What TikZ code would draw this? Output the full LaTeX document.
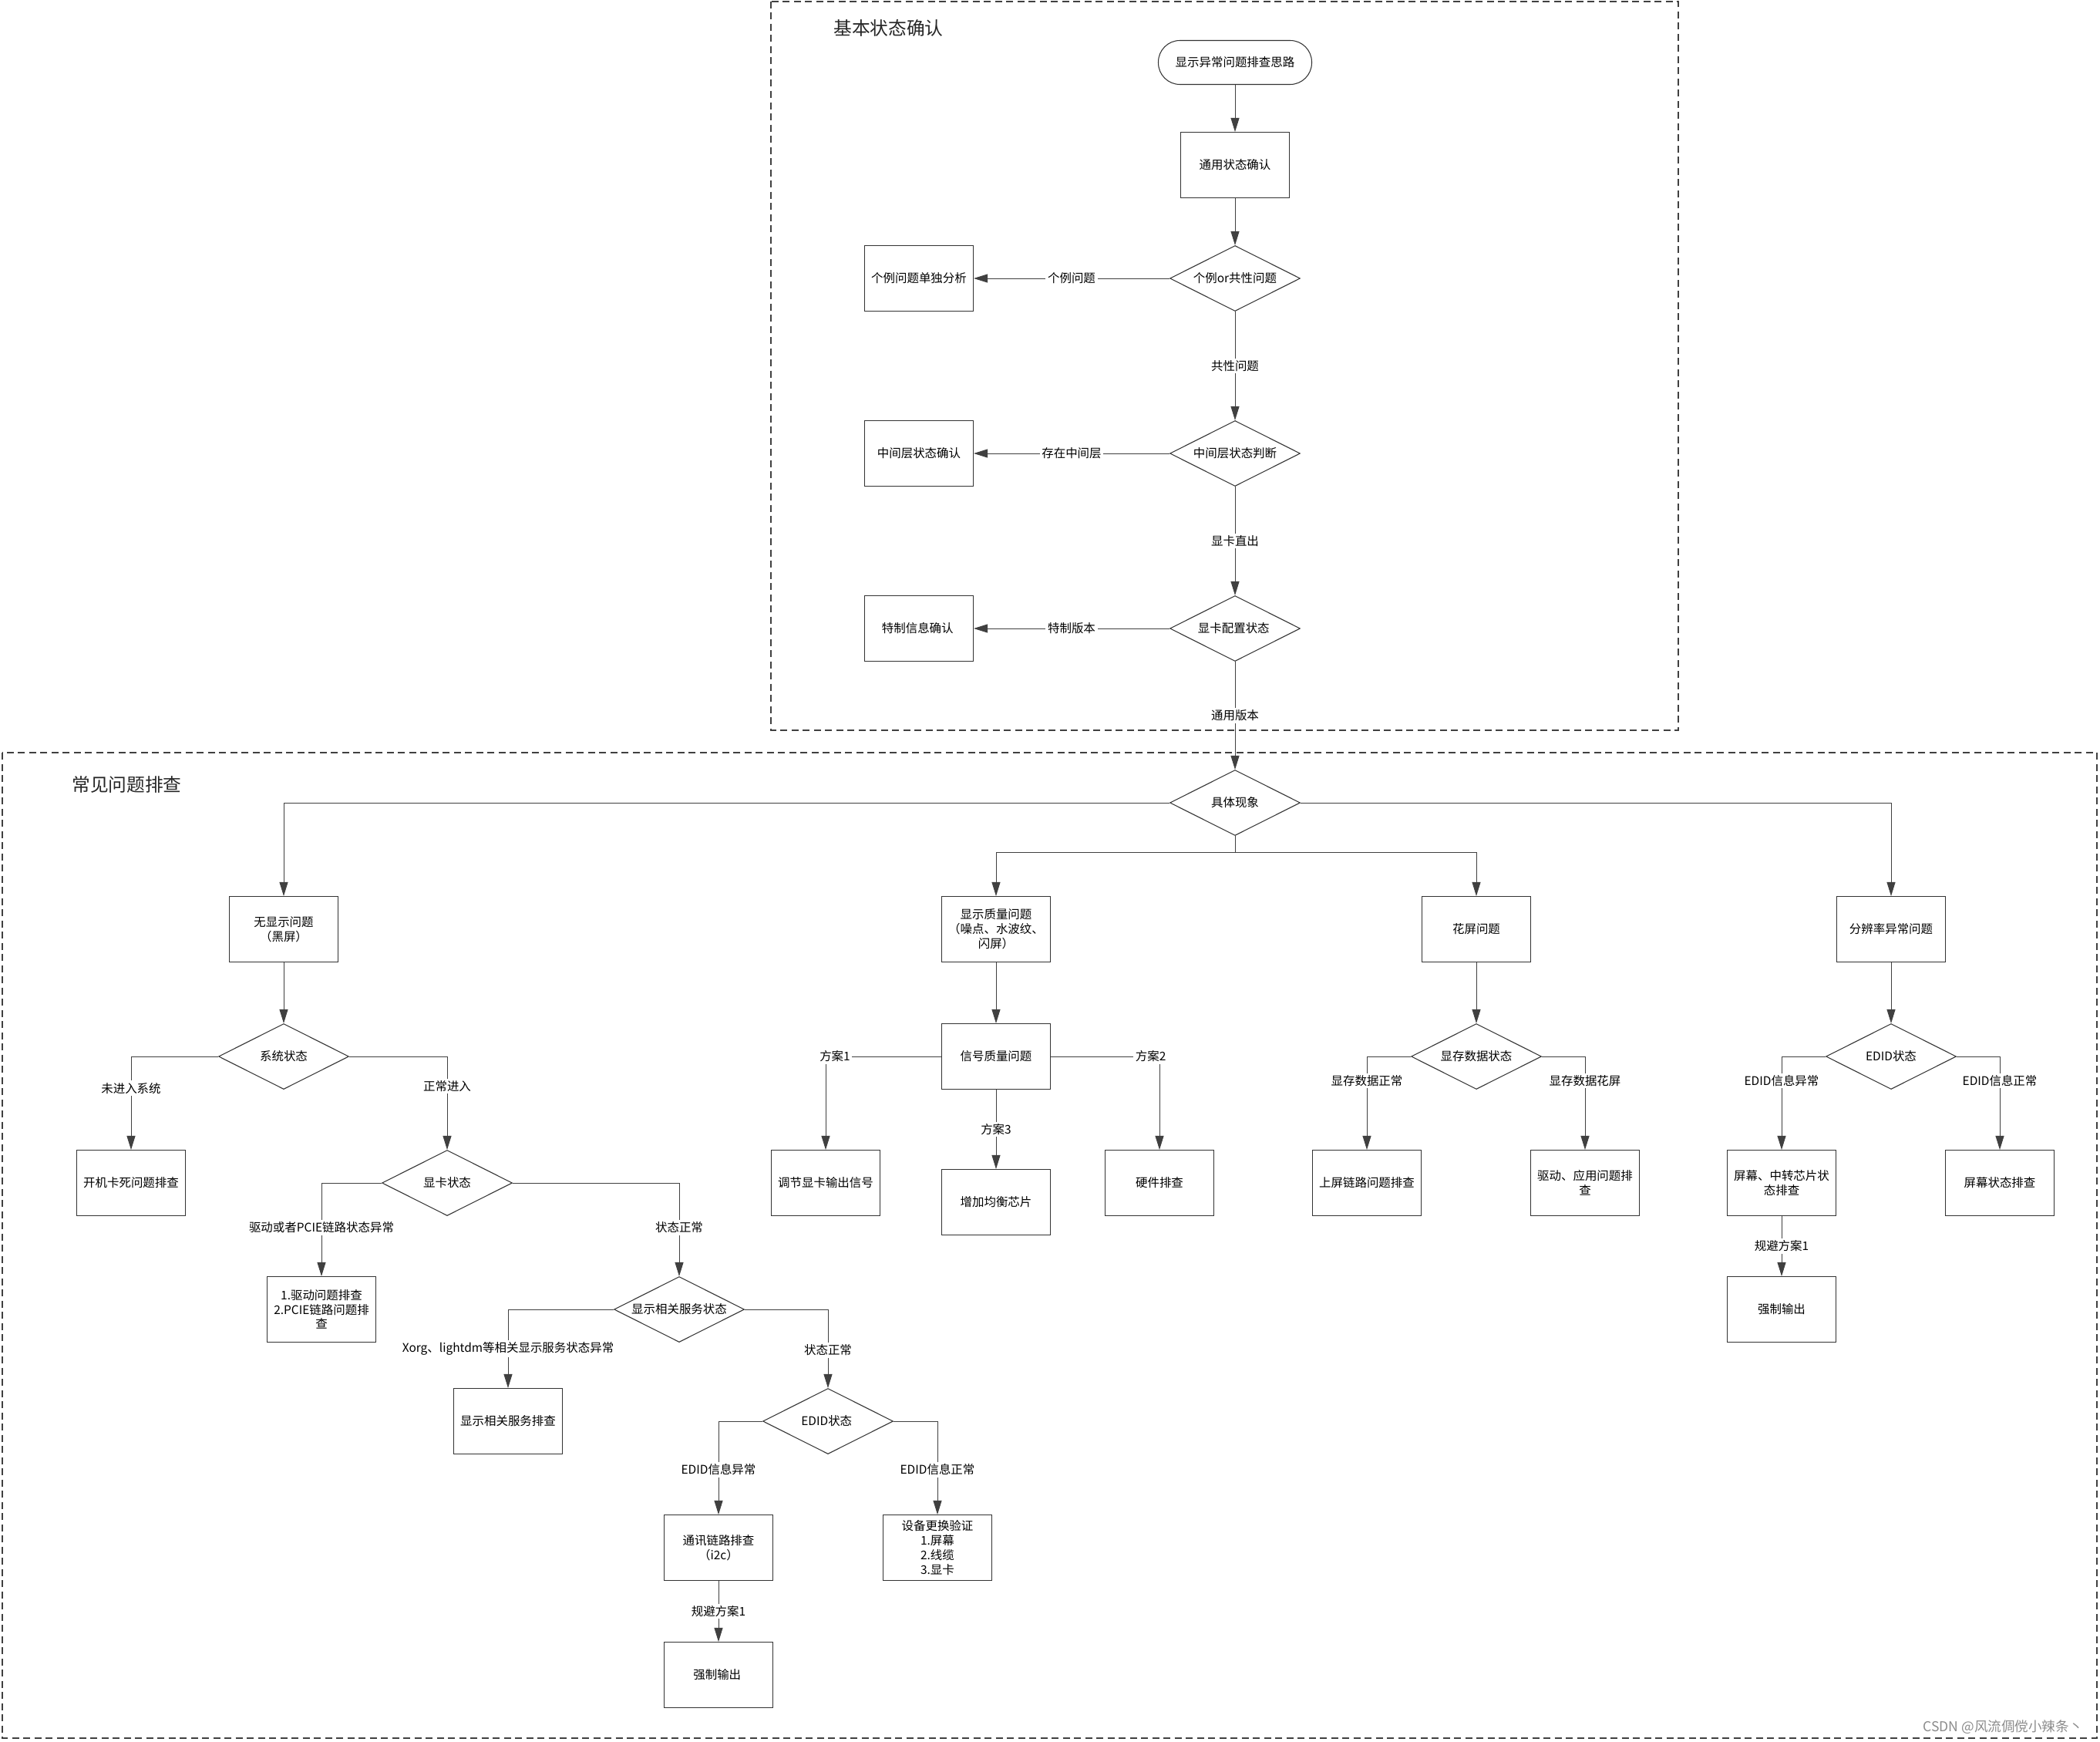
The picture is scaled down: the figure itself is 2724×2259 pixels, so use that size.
\documentclass[tikz,border=0pt]{standalone}
\usepackage{fontspec}
\usepackage{tikz}
\usetikzlibrary{shapes.geometric,arrows.meta,positioning}
\newfontfamily\cjk{Noto Sans CJK SC}

\begin{document}
\begin{tikzpicture}[x=0.2mm, y=-0.2mm,
  txt/.style={font=\cjk\fontsize{8.8}{10.7}\selectfont, text=black},
  proc/.style={txt, draw=black!80, line width=0.6pt, fill=white, minimum width=28.2mm, minimum height=17mm, align=center, inner sep=0.5pt},
  decide/.style={txt, diamond, aspect=2, draw=black!80, line width=0.6pt, fill=white, minimum width=33.8mm, minimum height=17mm, inner sep=0pt, align=center},
  terminal/.style={txt, draw=black!80, line width=0.6pt, fill=white, rounded corners=5.6mm, minimum width=39.8mm, minimum height=11.4mm},
  flow/.style={draw=black!75, line width=0.5pt, -{Triangle[length=3.6mm, width=2.2mm]}},
  link/.style={draw=black!75, line width=0.5pt},
  lbl/.style={txt, fill=white, inner sep=1.5pt},
  zonebox/.style={draw=black!75, line width=1pt, dash pattern=on 1.8mm off 1.1mm},
  zonetitle/.style={font=\cjk\fontsize{13.5}{15}\selectfont, text=black!85, anchor=west, inner sep=0pt}
]
  \fill[white] (0,0) rectangle (2724,2259);
  \useasboundingbox (0,0) rectangle (2724,2259);

  % two dashed zones
  \draw[zonebox] (1000,2) rectangle (2177,947);
  \draw[zonebox] (3,976) rectangle (2720,2254);
  \node[zonetitle] (basictitle) at (1081,36) {基本状态确认};
  \node[zonetitle] (commontitle) at (93,1017) {常见问题排查};

  % basic state check
  \node[terminal] (start) at (1602,81) {显示异常问题排查思路};
  \foreach \name/\x/\y/\txt in {
    general/1602/214/通用状态确认,
    single/1192/361/个例问题单独分析,
    midbox/1192/588/中间层状态确认,
    special/1192/815/特制信息确认
  } {
    \node[proc] (\name) at (\x,\y) {\txt};
  }
  \foreach \name/\x/\y/\txt in {
    casechk/1602/361/个例or共性问题,
    midchk/1602/588/中间层状态判断,
    cfgchk/1602/815/显卡配置状态
  } {
    \node[decide] (\name) at (\x,\y) {\txt};
  }

  % common issues
  \foreach \name/\x/\y/\txt in {
    nodisp/368/1205/{无显示问题\\（黑屏）},
    quality/1292/1205/{显示质量问题\\（噪点、水波纹、\\闪屏）},
    garble/1915/1205/花屏问题,
    resol/2453/1205/分辨率异常问题,
    signal/1292/1370/信号质量问题,
    bootbox/170/1534/开机卡死问题排查,
    tune/1071/1534/调节显卡输出信号,
    equal/1292/1559/增加均衡芯片,
    hwbox/1504/1534/硬件排查,
    linkbox/1773/1534/上屏链路问题排查,
    drvapp/2056/1534/{驱动、应用问题排\\查},
    relay/2311/1534/{屏幕、中转芯片状\\态排查},
    panel/2594/1534/屏幕状态排查,
    drvpcie/417/1698/{1.驱动问题排查\\2.PCIE链路问题排\\查},
    forceR/2311/1698/强制输出,
    svcbox/659/1843/显示相关服务排查,
    i2cbox/932/2007/{通讯链路排查\\（i2c）},
    swapbox/1216/2007/{设备更换验证\\1.屏幕\\2.线缆\\3.显卡},
    forceL/932/2172/强制输出
  } {
    \node[proc] (\name) at (\x,\y) {\txt};
  }
  \foreach \name/\x/\y/\txt in {
    phen/1602/1041/具体现象,
    syschk/368/1370/系统状态,
    vramchk/1915/1370/显存数据状态,
    edidR/2453/1370/EDID状态,
    gpuchk/580/1534/显卡状态,
    svcchk/881/1698/显示相关服务状态,
    edidL/1074/1843/EDID状态
  } {
    \node[decide] (\name) at (\x,\y) {\txt};
  }
  \coordinate (bus) at (1602,1105);

  % top flow
  \draw[flow] (start) -- (general);
  \draw[flow] (general) -- (casechk);
  \draw[flow] (casechk.west) -- node[lbl] {个例问题} (single.east);
  \draw[flow] (casechk) -- node[lbl] {共性问题} (midchk);
  \draw[flow] (midchk.west) -- node[lbl] {存在中间层} (midbox.east);
  \draw[flow] (midchk) -- node[lbl] {显卡直出} (cfgchk);
  \draw[flow] (cfgchk.west) -- node[lbl] {特制版本} (special.east);
  \draw[flow] (cfgchk) -- node[lbl] {通用版本} (phen);

  % split by symptom
  \draw[flow] (phen.west) -| (nodisp.north);
  \draw[flow] (phen.east) -| (resol.north);
  \draw[link] (phen.south) -- (bus);
  \draw[flow] (bus) -| (quality.north);
  \draw[flow] (bus) -| (garble.north);

  % no display
  \draw[flow] (nodisp) -- (syschk);
  \draw[flow] (syschk.west) -| node[lbl, pos=0.67] {未进入系统} (bootbox.north);
  \draw[flow] (syschk.east) -| node[lbl, pos=0.66] {正常进入} (gpuchk.north);
  \draw[flow] (gpuchk.west) -| node[lbl, pos=0.74] {驱动或者PCIE链路状态异常} (drvpcie.north);
  \draw[flow] (gpuchk.east) -| node[lbl, pos=0.74] {状态正常} (svcchk.north);
  \draw[flow] (svcchk.west) -| node[lbl, pos=0.75] {Xorg、lightdm等相关显示服务状态异常} (svcbox.north);
  \draw[flow] (svcchk.east) -| node[lbl, pos=0.76] {状态正常} (edidL.north);
  \draw[flow] (edidL.west) -| node[lbl, pos=0.76] {EDID信息异常} (i2cbox.north);
  \draw[flow] (edidL.east) -| node[lbl, pos=0.76] {EDID信息正常} (swapbox.north);
  \draw[flow] (i2cbox) -- node[lbl] {规避方案1} (forceL);

  % display quality
  \draw[flow] (quality) -- (signal);
  \draw[flow] (signal.west) -| node[lbl, pos=0.46] {方案1} (tune.north);
  \draw[flow] (signal.east) -| node[lbl, pos=0.46] {方案2} (hwbox.north);
  \draw[flow] (signal) -- node[lbl] {方案3} (equal);

  % garbled screen
  \draw[flow] (garble) -- (vramchk);
  \draw[flow] (vramchk.west) -| node[lbl, pos=0.63] {显存数据正常} (linkbox.north);
  \draw[flow] (vramchk.east) -| node[lbl, pos=0.63] {显存数据花屏} (drvapp.north);

  % resolution
  \draw[flow] (resol) -- (edidR);
  \draw[flow] (edidR.west) -| node[lbl, pos=0.63] {EDID信息异常} (relay.north);
  \draw[flow] (edidR.east) -| node[lbl, pos=0.63] {EDID信息正常} (panel.north);
  \draw[flow] (relay) -- node[lbl] {规避方案1} (forceR);

  \node[font=\cjk\fontsize{10}{12}\selectfont, text=black!45] (mark) at (2598,2240) {CSDN @风流倜傥小辣条丶};
\end{tikzpicture}
\end{document}
